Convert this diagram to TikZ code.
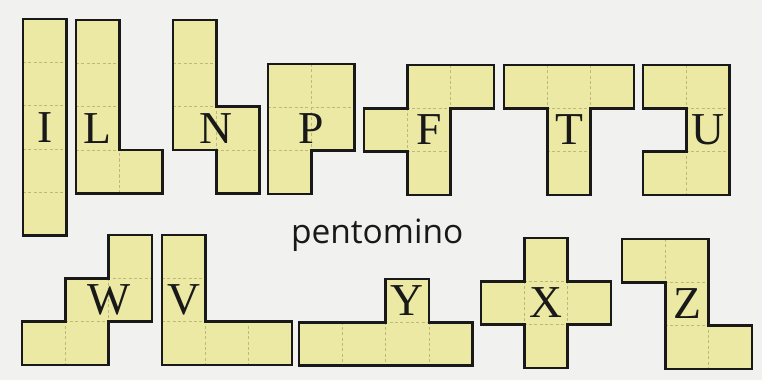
\documentclass[tikz,border=0pt]{standalone}
\usepackage{fontspec}
\newfontfamily\lettfont{Liberation Serif}
\newfontfamily\titlefont{Open Sans}
\usetikzlibrary{positioning}
\definecolor{paper}{RGB}{241,241,239}
\definecolor{cellfill}{RGB}{236,233,164}
\definecolor{cellline}{RGB}{190,184,122}

% one piece: name, top-left corner, outline, grid size, letter spot (cell units, y down)
\newcommand{\pento}[5]{%
  \begin{scope}[shift={(#2)}, yscale=-1]
    \fill[cellfill] #3 -- cycle;
    \begin{scope}
      \clip #3 -- cycle;
      \draw[cellgrid] (0,0) grid (#4);
    \end{scope}
    \draw[rim] #3 -- cycle;
    \node[letter] (#1) at (#5) {#1};
  \end{scope}}

\begin{document}
\begin{tikzpicture}[
  cellgrid/.style={draw=cellline, line width=0.4pt, dash pattern=on 2pt off 1.5pt},
  rim/.style={draw=black!90, line width=1.8pt, line join=miter},
  letter/.style={font=\lettfont\fontsize{30}{30}\selectfont, text=black!90, inner sep=0pt},
  every node/.style={font=\sffamily}
]

% paper
\fill[paper] (0,0) rectangle (17.598,8.776);
\useasboundingbox (0,0) rectangle (17.598,8.776);

% top row
\pento{I}{0.531,8.337}{(0,0) -- (1,0) -- (1,5) -- (0,5)}{1,5}{0.5,2.5}
\pento{L}{1.755,8.314}{(0,0) -- (1,0) -- (1,3) -- (2,3) -- (2,4) -- (0,4)}{2,4}{0.5,2.5}
\pento{N}{3.995,8.314}{(0,0) -- (1,0) -- (1,2) -- (2,2) -- (2,4) -- (1,4) -- (1,3) -- (0,3)}{2,4}{1,2.5}
\pento{P}{6.189,7.298}{(0,0) -- (2,0) -- (2,2) -- (1,2) -- (1,3) -- (0,3)}{2,3}{1,1.5}
\pento{F}{8.406,7.275}{(1,0) -- (3,0) -- (3,1) -- (2,1) -- (2,3) -- (1,3) -- (1,2) -- (0,2) -- (0,1) -- (1,1)}{3,3}{1.5,1.5}
\pento{T}{11.640,7.275}{(0,0) -- (3,0) -- (3,1) -- (2,1) -- (2,3) -- (1,3) -- (1,1) -- (0,1)}{3,3}{1.5,1.5}
\pento{U}{14.850,7.275}{(0,0) -- (2,0) -- (2,3) -- (0,3) -- (0,2) -- (1,2) -- (1,1) -- (0,1)}{2,3}{1.5,1.5}

% bottom row
\pento{W}{0.508,3.349}{(2,0) -- (3,0) -- (3,2) -- (2,2) -- (2,3) -- (0,3) -- (0,2) -- (1,2) -- (1,1) -- (2,1)}{3,3}{2,1.5}
\pento{V}{3.741,3.349}{(0,0) -- (1,0) -- (1,2) -- (3,2) -- (3,3) -- (0,3)}{3,3}{0.5,1.5}
\pento{Y}{6.905,2.333}{(2,0) -- (3,0) -- (3,1) -- (4,1) -- (4,2) -- (0,2) -- (0,1) -- (2,1)}{4,2}{2.5,0.5}
\pento{X}{11.109,3.279}{(1,0) -- (2,0) -- (2,1) -- (3,1) -- (3,2) -- (2,2) -- (2,3) -- (1,3) -- (1,2) -- (0,2) -- (0,1) -- (1,1)}{3,3}{1.5,1.5}
\pento{Z}{14.365,3.256}{(0,0) -- (2,0) -- (2,2) -- (3,2) -- (3,3) -- (1,3) -- (1,1) -- (0,1)}{3,3}{1.5,1.5}

% caption
\node[font=\titlefont\fontsize{22}{22}\selectfont, text=black!90, anchor=base] (title) at (8.71,3.16) {pentomino};

\end{tikzpicture}
\end{document}
